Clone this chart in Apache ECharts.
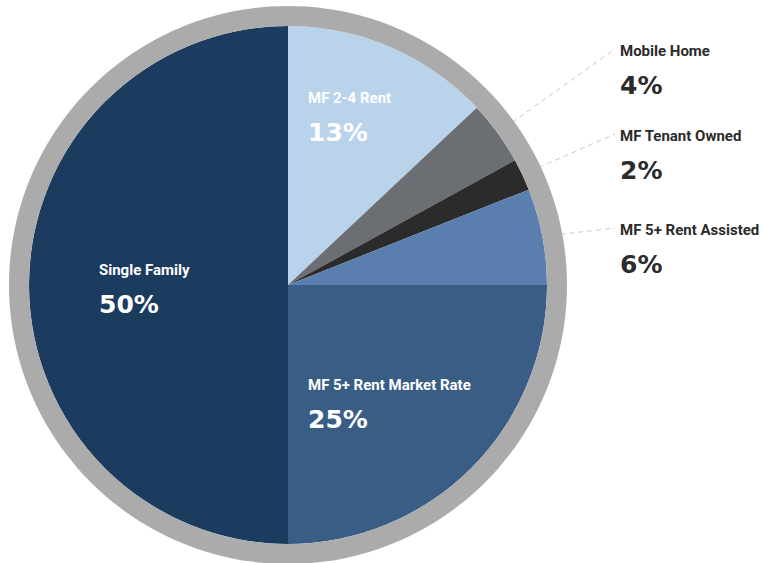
<!DOCTYPE html>
<html>
<head>
<meta charset="utf-8">
<script src="https://cdn.jsdelivr.net/npm/echarts@6/dist/echarts.min.js"></script>
<style>
  html, body { margin: 0; padding: 0; background: #ffffff; }
  #chart { width: 763px; height: 563px; }
</style>
</head>
<body>
<div id="chart"></div>
<script>
// ---- data ----
var categories = ['MF 2-4 Rent', 'Mobile Home', 'MF Tenant Owned', 'MF 5+ Rent Assisted', 'MF 5+ Rent Market Rate', 'Single Family'];
var shares = [13, 4, 2, 6, 25, 50];

// ---- styles (kept separate from data) ----
var colors = ['#b9d3ea', '#6b6e73', '#2b2b2b', '#5a7fae', '#3a5d85', '#1b3b5f'];
var insideLabel = [true, false, false, false, true, true];
// label anchor (left x, name-line centre y) for each slice
var labelPos = [[308, 98], [620, 51], [620, 136], [620, 230], [308, 385], [99, 270]];

var nameFont = 'Roboto, "Liberation Sans", sans-serif';
var pctFont = '"DejaVu Sans", sans-serif';

var chart = echarts.init(document.getElementById('chart'), null, { renderer: 'svg' });

var data = categories.map(function (name, i) {
  var txt = insideLabel[i] ? '#ffffff' : '#2b2b2b';
  return {
    name: name,
    value: shares[i],
    itemStyle: { color: colors[i] },
    label: {
      show: true,
      position: insideLabel[i] ? 'inside' : 'outside',
      rich: {
        n: { fontFamily: nameFont, fontWeight: 'bold', fontSize: 15, lineHeight: 34, color: txt },
        p: { fontFamily: pctFont, fontWeight: 'bold', fontSize: 25, lineHeight: 34, color: txt }
      }
    },
    labelLine: { show: !insideLabel[i] }
  };
});

chart.setOption({
  animation: false,
  series: [
    {
      type: 'pie',
      z: 2,
      center: [288, 285],
      radius: 259,
      startAngle: 90,
      clockwise: true,
      silent: true,
      avoidLabelOverlap: false,
      itemStyle: { borderWidth: 0 },
      emphasis: { disabled: true },
      label: {
        formatter: function (p) { return '{n|' + p.name + '}\n{p|' + p.value + '%}'; },
        align: 'left'
      },
      labelLine: {
        length: 30,
        length2: 30,
        lineStyle: { color: '#c9c9c9', width: 1, type: [5, 4] }
      },
      labelLayout: function (params) {
        var pos = labelPos[params.dataIndex];
        var out = {
          x: pos[0],
          y: pos[1] - 17,
          align: 'left',
          verticalAlign: 'top'
        };
        if (!insideLabel[params.dataIndex] && params.labelLinePoints) {
          out.labelLinePoints = [params.labelLinePoints[0], [pos[0] - 5, pos[1] - 2]];
        }
        return out;
      },
      data: data
    },
    {
      type: 'pie',
      z: 3,
      center: [288, 285],
      radius: [259, 279],
      silent: true,
      label: { show: false },
      labelLine: { show: false },
      itemStyle: { color: '#ababab', borderWidth: 0 },
      emphasis: { disabled: true },
      data: [{ value: 1, name: 'ring' }]
    }
  ]
});
</script>
</body>
</html>
